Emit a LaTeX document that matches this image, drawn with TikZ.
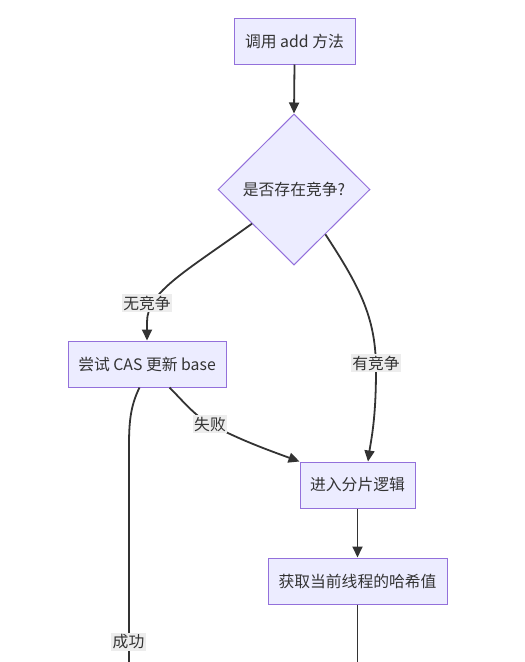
\documentclass[tikz,border=0pt]{standalone}
\usepackage{fontspec}
\setmainfont{Noto Sans CJK SC}
\usetikzlibrary{shapes.geometric,arrows.meta,calc}
\definecolor{nodefill}{HTML}{ECECFF}
\definecolor{nodeline}{HTML}{9370DB}
\definecolor{ink}{HTML}{333333}
\definecolor{lblbg}{HTML}{EDEDED}
\begin{document}
\begin{tikzpicture}[x=1pt,y=-1pt,
  every node/.style={font=\fontsize{15.8}{18}\selectfont, text=ink},
  boxnode/.style={draw=nodeline, fill=nodefill, line width=1pt, minimum height=46pt, inner sep=0pt},
  decnode/.style={diamond, draw=nodeline, fill=nodefill, line width=1pt, minimum width=152pt, minimum height=151pt, inner sep=0pt, aspect=1},
  edgelbl/.style={fill=lblbg, inner sep=1.5pt},
  conn/.style={draw=ink, line width=1.8pt},
  arr/.style={conn, -{Triangle[length=11pt,width=10pt]}}
]
\useasboundingbox (0,0) rectangle (525,662);

\node[boxnode, minimum width=121pt] (call) at (294.5,41) {调用 add 方法};
\node[decnode] (dec) at (294,189.5) {是否存在竞争?};
\node[boxnode, minimum width=158pt] (cas) at (147,364) {尝试 CAS 更新 base};
\node[boxnode, minimum width=115pt] (shard) at (357.5,485) {进入分片逻辑};
\node[boxnode, minimum width=179pt] (hash) at (357.5,581) {获取当前线程的哈希值};

\coordinate (dl) at ($(dec.west)!0.45!(dec.south)$);
\coordinate (dr) at ($(dec.south)!0.41!(dec.east)$);
\coordinate (casfail) at ($(cas.south west)+(102,0)$);
\coordinate (casok) at ($(cas.south west)+(72,0)$);
\coordinate (endL) at (129,662);
\coordinate (endR) at (357.5,662);

\draw[arr] (call.south) -- (dec.north);
\draw[arr] (dl) .. controls (185,272) and (147,292) .. (147,322) -- (cas.north);
\draw[arr] (dr) .. controls (362,290) and (376,320) .. (376,370) .. controls (376,420) and (371,440) .. ($(shard.north)+(10.5,0)$);
\draw[arr] (casfail) .. controls (182,400) and (195,416) .. (210,424) .. controls (240,440) and (268,450) .. ($(shard.north west)+(0,0)$);
\draw[arr] (shard.south) -- (hash.north);
\draw[conn] (casok) .. controls (131,405) and (129,420) .. (129,445) -- (endL);
\draw[conn] (hash.south) -- (endR);

\node[edgelbl] (lno) at (147,303) {无竞争};
\node[edgelbl] (lyes) at (376,363) {有竞争};
\node[edgelbl] (lfail) at (210,424) {失败};
\node[edgelbl] (lok) at (128.5,642) {成功};
\end{tikzpicture}
\end{document}
